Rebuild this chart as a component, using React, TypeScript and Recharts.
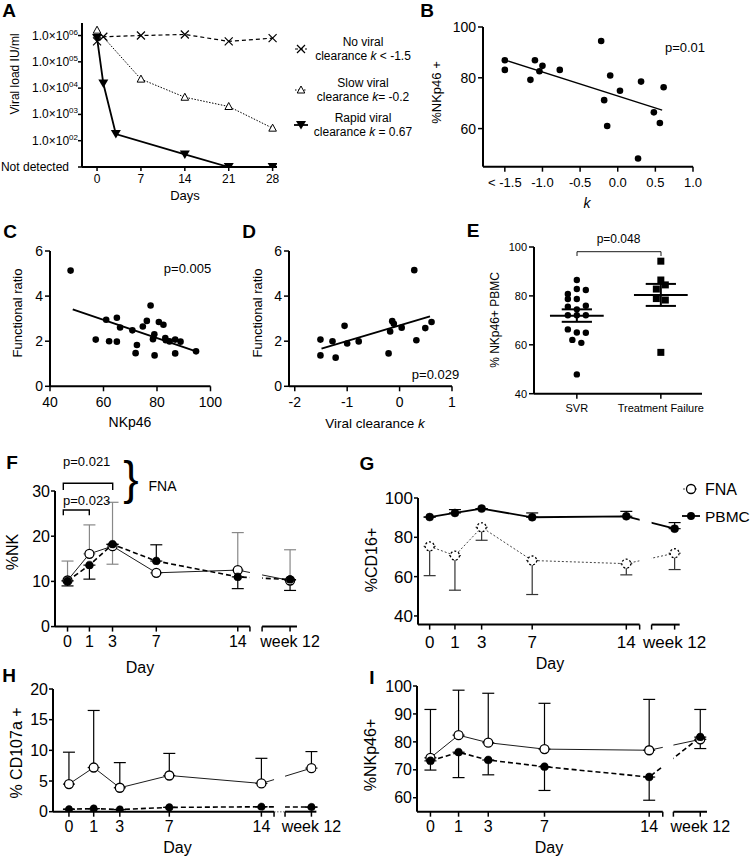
import React from 'react';
import {
  ComposedChart, ScatterChart, Line, Scatter, XAxis, YAxis,
  ReferenceLine, ReferenceArea, ErrorBar,
} from 'recharts';

const FONT = '"Liberation Sans", Arial, Helvetica, sans-serif';

// ---------------- A: viral load kinetics ----------------
const aDaysNone = [0, 1, 7, 14, 21, 28];
const aLoadNone = [6e5, 9e5, 1.0e6, 1.1e6, 6e5, 8e5];
const aDaysSlow = [0, 7, 14, 21, 28];
const aLoadSlow = [1.6e6, 2.2e4, 4.5e3, 2.0e3, 3.0e2];
const aDaysRapid = [0, 1, 3, 14, 21, 28];
const aLoadRapid = [8e5, 1.5e4, 1.8e2, 30, 10, 10];
const aYTicks = [10, 1e2, 1e3, 1e4, 1e5, 1e6];
const aXTicks = [0, 7, 14, 21, 28];

// ---------------- B: NKp46 vs k ----------------
const bK = [-1.5, -1.5, -1.16, -1.1, -1.04, -1.0, -0.77, -0.22, -0.18, -0.14, -0.1, 0.03, 0.27, 0.31, 0.48, 0.56, 0.61];
const bNkp46 = [86.9, 83.1, 79.2, 86.9, 82.6, 84.7, 83.1, 94.5, 71.2, 61.0, 80.9, 74.9, 48.2, 78.5, 66.4, 62.2, 76.3];
const bFitK = [-1.5, 0.59];
const bFitY = [87.0, 67.3];
const bXTicks = [-1.5, -1.0, -0.5, 0, 0.5, 1.0];
const bYTicks = [60, 80, 100];

// ---------------- C: functional ratio vs NKp46 ----------------
const cNkp46 = [47.7, 57.1, 61.0, 62.1, 65.0, 65.0, 66.2, 70.8, 72.0, 72.5, 74.7, 76.2, 77.6, 78.5, 79.0, 79.1, 80.7, 82.4, 83.1, 83.3, 84.7, 86.8, 86.8, 88.8, 94.6];
const cRatio = [5.13, 2.07, 2.95, 2.0, 3.04, 1.98, 2.61, 2.48, 1.47, 1.83, 2.65, 2.9, 3.58, 2.09, 2.31, 1.37, 2.85, 2.73, 2.14, 2.04, 1.99, 2.07, 1.46, 1.98, 1.55];
const cFitX = [48.5, 94.6];
const cFitY = [3.41, 1.55];
const cXTicks = [40, 60, 80, 100];
const ratioTicks = [0, 2, 4, 6];

// ---------------- D: functional ratio vs k ----------------
const dK = [-1.51, -1.51, -1.28, -1.22, -1.05, -1.0, -0.78, -0.21, -0.18, -0.14, -0.11, 0.04, 0.28, 0.32, 0.49, 0.61];
const dRatio = [2.07, 1.37, 2.0, 1.27, 2.68, 1.9, 1.99, 1.46, 2.43, 2.89, 2.77, 2.6, 5.15, 2.04, 2.58, 2.85];
const dFitX = [-1.49, 0.58];
const dFitY = [1.67, 3.1];
const dXTicks = [-2, -1, 0, 1];

// ---------------- E: NKp46+ PBMC by outcome ----------------
const eGroups = ['SVR', 'Treatment Failure'];
const eSvr = [86.5, 82.8, 82.4, 80.8, 78.7, 78.7, 76.0, 75.6, 74.5, 72.1, 72.1, 72.1, 66.3, 65.0, 64.9, 62.0, 60.8, 47.9];
const eSvrCol = [0, 0, 1, -1, -1, 0, 1, -1, 0, -1, 0, 1, -1, 0, 1, -0.5, 0.5, 0];
const eTf = [94.2, 86.5, 84.5, 82.8, 78.9, 78.3, 56.9];
const eTfCol = [0, 0, 0.5, -0.5, -0.5, 0.5, 0];
const eMean = [71.9, 80.4];
const eSemHi = [74.5, 84.9];
const eSemLo = [69.4, 75.9];
const eYTicks = [40, 60, 80, 100];

// ---------------- F–I: time courses ----------------
const dayLabels = ['0', '1', '3', '7', '14', 'week 12'];
const dayPos = [0, 1.8, 3.7, 7.3, 14];

const fFna = [10.2, 16.1, 17.8, 11.9, 12.5, 10.2];
const fFnaUp = [4.3, 6.4, 9.7, 0, 8.3, 6.8];
const fFnaDn = [0, 0, 4.0, 0, 0, 0];
const fPbmc = [10.1, 13.6, 18.2, 14.5, 11.0, 10.4];
const fPbmcUp = [0, 0, 0, 3.6, 0, 0];
const fPbmcDn = [1.1, 3.1, 0, 0, 2.6, 2.4];

const gFna = [75.4, 70.7, 85.1, 68.2, 66.6, 71.9];
const gFnaUp = [0, 0, 0, 0, 0, 0];
const gFnaDn = [14.9, 17.6, 6.6, 17.3, 5.7, 8.3];
const gPbmc = [90.3, 92.4, 94.6, 90.2, 90.7, 84.4];
const gPbmcUp = [0, 1.7, 0, 2.2, 2.5, 3.1];
const gPbmcDn = [0, 0, 0, 0, 0, 0];

const hFna = [4.5, 7.2, 3.9, 5.9, 4.6, 7.1];
const hFnaUp = [5.2, 9.3, 4.1, 3.6, 4.1, 2.7];
const hFnaDn = [0, 0, 0, 0, 0, 0];
const hPbmc = [0.4, 0.5, 0.35, 0.7, 0.8, 0.75];
const hPbmcUp = [0, 0, 0, 0, 0, 0];
const hPbmcDn = [0, 0, 0, 0, 0, 0];

const iFna = [74.3, 82.4, 79.7, 77.4, 77.0, 80.9];
const iFnaUp = [17.3, 16.1, 17.7, 16.4, 18.2, 10.7];
const iFnaDn = [0, 0, 0, 0, 0, 0];
const iPbmc = [73.2, 76.3, 73.5, 71.1, 67.4, 81.7];
const iPbmcUp = [0, 0, 0, 0, 0, 0];
const iPbmcDn = [3.3, 9.1, 5.3, 8.5, 8.3, 4.1];

// ---------------- layout helpers ----------------
const PL = 90, PT = 14, PR = 50, PB = 40;
type Rect = { x1: number; y1: number; x2: number; y2: number };
const frameStyle = (r: Rect): React.CSSProperties => ({ position: 'absolute', left: r.x1 - PL, top: r.y1 - PT });
const fw = (r: Rect) => r.x2 - r.x1 + PL + PR;
const fh = (r: Rect) => r.y2 - r.y1 + PT + PB;
const tickStyle = (s: number) => ({ fill: '#000', fontSize: s, fontFamily: FONT });
const AX = { stroke: '#000', strokeWidth: 2 };
const TL = { stroke: '#000', strokeWidth: 1.5 };

const zip = (xs: number[], ys: number[]) => xs.map((x, i) => ({ x, y: ys[i] }));

const dotShape = (r: number) => (p: any) => <circle cx={p.cx} cy={p.cy} r={r} fill="#000" />;
const squareShape = (s: number) => (p: any) => <rect x={p.cx - s / 2} y={p.cy - s / 2} width={s} height={s} fill="#000" />;

// A markers
const crossDot = (p: any) => {
  const { cx, cy } = p;
  if (cx == null || cy == null) return <g />;
  return <path d={`M${cx - 4},${cy - 4}L${cx + 4},${cy + 4}M${cx - 4},${cy + 4}L${cx + 4},${cy - 4}`} stroke="#000" strokeWidth={1.2} fill="none" />;
};
const triUpDot = (p: any) => {
  const { cx, cy } = p;
  if (cx == null || cy == null) return <g />;
  return <path d={`M${cx},${cy - 4}L${cx + 3.8},${cy + 3}L${cx - 3.8},${cy + 3}Z`} stroke="#000" strokeWidth={1} fill="#fff" />;
};
const triDownDot = (p: any) => {
  const { cx, cy } = p;
  if (cx == null || cy == null) return <g />;
  return <path d={`M${cx - 5},${cy - 4}L${cx + 5},${cy - 4}L${cx},${cy + 4.5}Z`} fill="#000" />;
};

const LoadTick = (p: any) => {
  const { x, y, payload } = p;
  const v = payload.value;
  if (v <= 10) {
    return <text x={x - 9} y={y} dy={4} textAnchor="end" fontSize={12} fontFamily={FONT} fill="#000">Not detected</text>;
  }
  const e = Math.round(Math.log10(v));
  return (
    <text x={x} y={y} dy={4} textAnchor="end" fontSize={12} fontFamily={FONT} fill="#000">
      1.0×10<tspan dy={-5} fontSize={8}>{String(e).padStart(2, '0')}</tspan>
    </text>
  );
};

function PanelA() {
  const r: Rect = { x1: 82, y1: 23, x2: 277, y2: 167 };
  return (
    <div style={frameStyle(r)}>
      <ComposedChart width={fw(r)} height={fh(r)} margin={{ top: PT, right: PR, bottom: 0, left: 0 }}>
        <XAxis type="number" dataKey="x" domain={[-2.4, 28.7]} ticks={aXTicks} interval={0} height={PB}
          axisLine={AX} tickLine={TL} tickSize={4} tickMargin={3} tick={tickStyle(12)} allowDataOverflow />
        <YAxis type="number" scale="log" domain={[10, 3e6]} ticks={aYTicks} interval={0} width={PL}
          axisLine={AX} tickLine={TL} tickSize={4} tickMargin={0} tick={<LoadTick />} allowDataOverflow />
        <Line data={zip(aDaysNone, aLoadNone)} dataKey="y" stroke="#000" strokeWidth={1.2} strokeDasharray="4 3" dot={crossDot} isAnimationActive={false} />
        <Line data={zip(aDaysSlow, aLoadSlow)} dataKey="y" stroke="#000" strokeWidth={1} strokeDasharray="1.5 1.5" dot={triUpDot} isAnimationActive={false} />
        <Line data={zip(aDaysRapid, aLoadRapid)} dataKey="y" stroke="#000" strokeWidth={1.8} dot={triDownDot} isAnimationActive={false} />
      </ComposedChart>
    </div>
  );
}

function ScatterPanel(props: {
  r: Rect; xDom: number[]; yDom: number[]; xTicks: number[]; yTicks: number[];
  xFmt?: (v: number) => string; xFont: number; yFont: number; pts: { x: number; y: number }[];
  fitX: number[]; fitY: number[]; fitW: number;
}) {
  const { r, xDom, yDom, xTicks, yTicks, xFmt, xFont, yFont, pts, fitX, fitY, fitW } = props;
  return (
    <div style={frameStyle(r)}>
      <ScatterChart width={fw(r)} height={fh(r)} margin={{ top: PT, right: PR, bottom: 0, left: 0 }}>
        <XAxis type="number" dataKey="x" domain={xDom} ticks={xTicks} interval={0} height={PB} tickFormatter={xFmt}
          axisLine={AX} tickLine={TL} tickSize={5} tickMargin={6} tick={tickStyle(xFont)} allowDataOverflow />
        <YAxis type="number" dataKey="y" domain={yDom} ticks={yTicks} interval={0} width={PL}
          axisLine={AX} tickLine={TL} tickSize={5} tickMargin={2} tick={tickStyle(yFont)} allowDataOverflow />
        <Scatter data={pts} fill="#000" shape={dotShape(3.3)} isAnimationActive={false} />
        <ReferenceLine segment={[{ x: fitX[0], y: fitY[0] }, { x: fitX[1], y: fitY[1] }]} stroke="#000" strokeWidth={fitW} ifOverflow="visible" />
      </ScatterChart>
    </div>
  );
}

function PanelE() {
  const r: Rect = { x1: 534, y1: 247.3, x2: 702, y2: 394 };
  const colW = 0.107;
  const svr = eSvr.map((y, i) => ({ x: 1 + eSvrCol[i] * colW, y }));
  const tf = eTf.map((y, i) => ({ x: 2 + eTfCol[i] * colW, y }));
  return (
    <div style={frameStyle(r)}>
      <ScatterChart width={fw(r)} height={fh(r)} margin={{ top: PT, right: PR, bottom: 0, left: 0 }}>
        <XAxis type="number" dataKey="x" domain={[0.49, 2.49]} ticks={[1, 2]} interval={0} height={PB}
          tickFormatter={(v: number) => eGroups[Math.round(v) - 1] || ''}
          axisLine={AX} tickLine={TL} tickSize={5} tickMargin={6} tick={tickStyle(11)} allowDataOverflow />
        <YAxis type="number" dataKey="y" domain={[40, 100]} ticks={eYTicks} interval={0} width={PL}
          axisLine={AX} tickLine={TL} tickSize={5} tickMargin={2} tick={tickStyle(11)} allowDataOverflow />
        <Scatter data={svr} fill="#000" shape={dotShape(3.2)} isAnimationActive={false} />
        <Scatter data={tf} fill="#000" shape={squareShape(7)} isAnimationActive={false} />
        {eMean.map((m, g) => (
          <React.Fragment key={g}>
            <ReferenceLine segment={[{ x: g + 1 - 0.32, y: m }, { x: g + 1 + 0.32, y: m }]} stroke="#000" strokeWidth={2} />
            <ReferenceLine segment={[{ x: g + 1 - 0.18, y: eSemHi[g] }, { x: g + 1 + 0.18, y: eSemHi[g] }]} stroke="#000" strokeWidth={2} />
            <ReferenceLine segment={[{ x: g + 1 - 0.18, y: eSemLo[g] }, { x: g + 1 + 0.18, y: eSemLo[g] }]} stroke="#000" strokeWidth={2} />
            <ReferenceLine segment={[{ x: g + 1, y: eSemLo[g] }, { x: g + 1, y: eSemHi[g] }]} stroke="#000" strokeWidth={2} />
          </React.Fragment>
        ))}
      </ScatterChart>
    </div>
  );
}

type SeriesStyle = { stroke: string; width: number; dash?: string; err: string; r: number; open: boolean };
type TimeCfg = {
  r: Rect; xMin: number; xMax: number; wk: number; brk1: number; brk2: number;
  yMin: number; yMax: number; yTicks: number[]; font: number; xTickMargin: number;
  fna: number[]; fnaUp: number[]; fnaDn: number[]; pbmc: number[]; pbmcUp: number[]; pbmcDn: number[];
  fnaStyle: SeriesStyle; pbmcStyle: SeriesStyle; dottedBreak?: boolean;
};

function TimePanel({ c }: { c: TimeCfg }) {
  const pos = [...dayPos, c.wk];
  const data = pos.map((x, i) => ({
    x,
    fna: c.fna[i], fnaErr: [c.fnaDn[i], c.fnaUp[i]],
    pbmc: c.pbmc[i], pbmcErr: [c.pbmcDn[i], c.pbmcUp[i]],
  }));
  const ticks = [...pos, c.brk1, c.brk2];
  const fmt = (v: number) => {
    const i = pos.findIndex((p) => Math.abs(p - v) < 1e-6);
    return i >= 0 ? dayLabels[i] : '';
  };
  const eps = ((c.yMax - c.yMin) * 2.5) / (c.r.y2 - c.r.y1);
  const dotOf = (s: SeriesStyle) =>
    s.open ? { r: s.r, fill: '#fff', stroke: '#000', strokeWidth: 1.3 } : { r: s.r, fill: '#000', stroke: '#000', strokeWidth: 0.5 };
  return (
    <div style={frameStyle(c.r)}>
      <ComposedChart width={fw(c.r)} height={fh(c.r)} data={data} margin={{ top: PT, right: PR, bottom: 0, left: 0 }}>
        <XAxis type="number" dataKey="x" domain={[c.xMin, c.xMax]} ticks={ticks} interval={0} tickFormatter={fmt} height={PB}
          axisLine={false} tickLine={TL} tickSize={5} tickMargin={c.xTickMargin} tick={tickStyle(c.font)} allowDataOverflow />
        <YAxis type="number" domain={[c.yMin, c.yMax]} ticks={c.yTicks} interval={0} width={PL}
          axisLine={AX} tickLine={TL} tickSize={4} tickMargin={1} tick={tickStyle(c.font)} allowDataOverflow />
        <Line dataKey="fna" stroke={c.fnaStyle.stroke} strokeWidth={c.fnaStyle.width} strokeDasharray={c.fnaStyle.dash}
          dot={dotOf(c.fnaStyle)} activeDot={false} isAnimationActive={false}>
          <ErrorBar dataKey="fnaErr" direction="y" width={6} stroke={c.fnaStyle.err} strokeWidth={1.2} />
        </Line>
        <Line dataKey="pbmc" stroke={c.pbmcStyle.stroke} strokeWidth={c.pbmcStyle.width} strokeDasharray={c.pbmcStyle.dash}
          dot={dotOf(c.pbmcStyle)} activeDot={false} isAnimationActive={false}>
          <ErrorBar dataKey="pbmcErr" direction="y" width={6} stroke={c.pbmcStyle.err} strokeWidth={1.2} />
        </Line>
        <ReferenceArea x1={c.brk1} x2={c.brk2} y1={c.yMin + eps} y2={c.yMax} fill="#fff" fillOpacity={1} stroke="none" ifOverflow="visible" zIndex={1500} />
        <ReferenceLine segment={[{ x: c.xMin, y: c.yMin }, { x: c.brk1, y: c.yMin }]} stroke="#000" strokeWidth={2} ifOverflow="visible" />
        <ReferenceLine segment={[{ x: c.brk2, y: c.yMin }, { x: c.xMax, y: c.yMin }]} stroke="#000" strokeWidth={2} ifOverflow="visible" />
        {c.dottedBreak && (
          <ReferenceLine segment={[{ x: c.brk1, y: c.yMin }, { x: c.brk2, y: c.yMin }]} stroke="#999" strokeWidth={1.5} strokeDasharray="1.5 1.5" ifOverflow="visible" />
        )}
      </ComposedChart>
    </div>
  );
}

const openThin: SeriesStyle = { stroke: '#000', width: 0.9, err: '#000', r: 4.5, open: true };
const filledDash: SeriesStyle = { stroke: '#000', width: 1.6, dash: '5 3', err: '#000', r: 4, open: false };

const cfgF: TimeCfg = {
  r: { x1: 55, y1: 490.7, x2: 297, y2: 626.3 }, xMin: -1.03, xMax: 18.87, wk: 18.3, brk1: 15.0, brk2: 16.0,
  yMin: 0, yMax: 30, yTicks: [0, 10, 20, 30], font: 16, xTickMargin: 4,
  fna: fFna, fnaUp: fFnaUp, fnaDn: fFnaDn, pbmc: fPbmc, pbmcUp: fPbmcUp, pbmcDn: fPbmcDn,
  fnaStyle: { ...openThin, err: '#888' }, pbmcStyle: filledDash,
};
const cfgG: TimeCfg = {
  r: { x1: 418.3, y1: 497.7, x2: 680, y2: 624.3 }, xMin: -0.83, xMax: 17.8, wk: 17.44, brk1: 14.95, brk2: 15.8,
  yMin: 35.6, yMax: 100, yTicks: [40, 60, 80, 100], font: 17, xTickMargin: 6,
  fna: gFna, fnaUp: gFnaUp, fnaDn: gFnaDn, pbmc: gPbmc, pbmcUp: gPbmcUp, pbmcDn: gPbmcDn,
  fnaStyle: { stroke: '#444', width: 1, dash: '2 2', err: '#333', r: 4.5, open: true },
  pbmcStyle: { stroke: '#000', width: 1.8, err: '#000', r: 4, open: false },
};
const cfgH: TimeCfg = {
  r: { x1: 53.3, y1: 689, x2: 316.7, y2: 811.7 }, xMin: -1.16, xMax: 18.0, wk: 17.64, brk1: 14.92, brk2: 15.72,
  yMin: 0, yMax: 20, yTicks: [0, 5, 10, 15, 20], font: 16, xTickMargin: 4,
  fna: hFna, fnaUp: hFnaUp, fnaDn: hFnaDn, pbmc: hPbmc, pbmcUp: hPbmcUp, pbmcDn: hPbmcDn,
  fnaStyle: openThin, pbmcStyle: { ...filledDash, r: 3.8 }, dottedBreak: true,
};
const cfgI: TimeCfg = {
  r: { x1: 417.3, y1: 686, x2: 707.3, y2: 811.7 }, xMin: -0.86, xMax: 17.7, wk: 17.27, brk1: 14.87, brk2: 15.55,
  yMin: 55, yMax: 100, yTicks: [60, 70, 80, 90, 100], font: 16, xTickMargin: 4,
  fna: iFna, fnaUp: iFnaUp, fnaDn: iFnaDn, pbmc: iPbmc, pbmcUp: iPbmcUp, pbmcDn: iPbmcDn,
  fnaStyle: openThin, pbmcStyle: filledDash,
};

// ---------------- overlay text ----------------
const T = (p: { x: number; y: number; s?: number; a?: 'start' | 'middle' | 'end'; rot?: boolean; b?: boolean; children: React.ReactNode }) => (
  <text x={p.x} y={p.y} fontSize={p.s ?? 13} textAnchor={p.a ?? 'middle'} dominantBaseline="central" fontFamily={FONT}
    fontWeight={p.b ? 'bold' : 'normal'} fill="#000" transform={p.rot ? `rotate(-90 ${p.x} ${p.y})` : undefined}>
    {p.children}
  </text>
);
const K = () => <tspan fontStyle="italic">k</tspan>;

function Overlay() {
  return (
    <svg width={750} height={860} style={{ position: 'absolute', left: 0, top: 0, pointerEvents: 'none' }}>
      {/* panel letters */}
      <T x={9} y={10} s={19} b>A</T>
      <T x={427} y={10} s={19} b>B</T>
      <T x={10} y={231} s={19} b>C</T>
      <T x={249} y={231} s={19} b>D</T>
      <T x={473} y={230} s={19} b>E</T>
      <T x={12} y={462} s={19} b>F</T>
      <T x={367} y={463} s={19} b>G</T>
      <T x={9} y={675} s={19} b>H</T>
      <T x={372} y={677} s={19} b>I</T>

      {/* A */}
      <T x={14.5} y={74} s={12} rot>Viral load IU/ml</T>
      <T x={185} y={195} s={13}>Days</T>
      <T x={363} y={42} s={12}>No viral</T>
      <T x={363} y={56} s={12}>clearance <K /> {'< -1.5'}</T>
      <T x={363} y={83} s={12}>Slow viral</T>
      <T x={363} y={97} s={12}>clearance <K />= -0.2</T>
      <T x={363} y={118} s={12}>Rapid viral</T>
      <T x={363} y={132} s={12}>clearance <K /> = 0.67</T>
      <line x1={295} y1={49} x2={307} y2={49} stroke="#000" strokeWidth={1.2} strokeDasharray="3 2" />
      <path d="M297,45L305,53M297,53L305,45" stroke="#000" strokeWidth={1.2} />
      <line x1={295} y1={90} x2={307} y2={90} stroke="#000" strokeWidth={1} strokeDasharray="1.5 1.5" />
      <path d="M301,86L304.8,93L297.2,93Z" stroke="#000" strokeWidth={1} fill="#fff" />
      <line x1={294} y1={125} x2={308} y2={125} stroke="#000" strokeWidth={1.8} />
      <path d="M296,121L306,121L301,129.5Z" fill="#000" />

      {/* B */}
      <T x={685} y={47.5} s={13}>p=0.01</T>
      <T x={436.5} y={92.5} s={13} rot>%NKp46 +</T>
      <text x={587} y={203} fontSize={14} fontStyle="italic" textAnchor="middle" dominantBaseline="central" fontFamily={FONT}>k</text>

      {/* C */}
      <T x={17.5} y={313} s={13} rot>Functional ratio</T>
      <T x={187.5} y={268} s={13}>p=0.005</T>
      <T x={130} y={421.5} s={14}>NKp46</T>

      {/* D */}
      <T x={257.5} y={313} s={13} rot>Functional ratio</T>
      <T x={435.5} y={374} s={13}>p=0.029</T>
      <T x={375} y={423} s={13.5}>Viral clearance <K /></T>

      {/* E */}
      <T x={495} y={320} s={12} rot>% NKp46+ PBMC</T>
      <T x={618.5} y={239} s={12}>p=0.048</T>
      <path d="M577,256V251.7H661V256" stroke="#000" strokeWidth={0.9} fill="none" />

      {/* F */}
      <T x={12.5} y={552} s={16} rot>%NK</T>
      <T x={140} y={667} s={16}>Day</T>
      <T x={63} y={461.5} s={13} a="start">p=0.021</T>
      <T x={63} y={500} s={13} a="start">p=0.023</T>
      <path d="M63.3,490V483.3H112.7V490" stroke="#000" strokeWidth={1.4} fill="none" />
      <path d="M63.3,515.3V510H89.3V515.3" stroke="#000" strokeWidth={1.4} fill="none" />
      <T x={131} y={478} s={46}>{'}'}</T>
      <T x={162.5} y={486} s={14}>FNA</T>

      {/* G */}
      <T x={371} y={560} s={16} rot>%CD16+</T>
      <T x={550} y={663} s={16}>Day</T>
      <line x1={683} y1={489} x2={699} y2={489} stroke="#444" strokeWidth={1} strokeDasharray="2 2" />
      <circle cx={691} cy={489} r={4.5} fill="#fff" stroke="#000" strokeWidth={1.3} />
      <T x={705} y={489} s={16} a="start">FNA</T>
      <line x1={682} y1={516} x2={700} y2={516} stroke="#000" strokeWidth={1.8} />
      <circle cx={691} cy={516} r={4} fill="#000" />
      <T x={705} y={516} s={15.5} a="start">PBMC</T>

      {/* H */}
      <T x={16.5} y={753} s={16} rot>% CD107a +</T>
      <T x={177.5} y={847.5} s={16}>Day</T>

      {/* I */}
      <T x={370} y={755} s={16} rot>%NKp46+</T>
      <T x={549} y={847.5} s={16}>Day</T>
    </svg>
  );
}

export default function App() {
  return (
    <div style={{ position: 'absolute', left: 0, top: 0, width: 750, height: 860, background: '#fff', fontFamily: FONT, overflow: 'hidden' }}>
      <PanelA />
      <ScatterPanel r={{ x1: 483, y1: 27.3, x2: 693, y2: 167 }} xDom={[-1.79, 1.0]} yDom={[45, 100]}
        xTicks={bXTicks} yTicks={bYTicks} xFmt={(v) => (v === -1.5 ? '< -1.5' : v.toFixed(1))}
        xFont={13} yFont={14} pts={zip(bK, bNkp46)} fitX={bFitK} fitY={bFitY} fitW={1.3} />
      <ScatterPanel r={{ x1: 49.5, y1: 250.7, x2: 210, y2: 386 }} xDom={[40, 100]} yDom={[0, 6]}
        xTicks={cXTicks} yTicks={ratioTicks} xFont={14} yFont={14} pts={zip(cNkp46, cRatio)}
        fitX={cFitX} fitY={cFitY} fitW={2} />
      <ScatterPanel r={{ x1: 289, y1: 250.7, x2: 452, y2: 386 }} xDom={[-2.11, 1.0]} yDom={[0, 6]}
        xTicks={dXTicks} yTicks={ratioTicks} xFont={14} yFont={14} pts={zip(dK, dRatio)}
        fitX={dFitX} fitY={dFitY} fitW={2} />
      <PanelE />
      <TimePanel c={cfgF} />
      <TimePanel c={cfgG} />
      <TimePanel c={cfgH} />
      <TimePanel c={cfgI} />
      <Overlay />
    </div>
  );
}
